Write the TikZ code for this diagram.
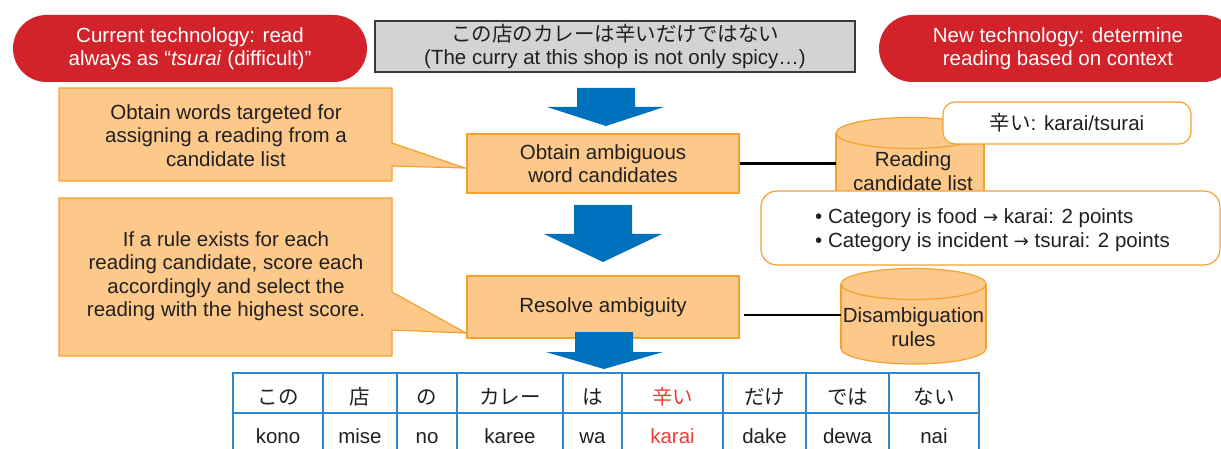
\documentclass[tikz,border=0pt]{standalone}
\usepackage{fontspec}
\setmainfont{Liberation Sans}
\newfontfamily\jpfont{Noto Sans CJK JP}
\newfontfamily\arrowfont{DejaVu Sans}
\definecolor{pillred}{HTML}{D2232A}
\definecolor{orfill}{HTML}{FCC98A}
\definecolor{ordraw}{HTML}{F7A12D}
\definecolor{grayfill}{HTML}{D1D3D4}
\definecolor{graydraw}{HTML}{3A3A3C}
\definecolor{arrowblue}{HTML}{0071BC}
\definecolor{tabblue}{HTML}{2F87CD}
\definecolor{txt}{HTML}{231F20}
\definecolor{redtxt}{HTML}{EF3E36}
\newcommand\fsz{\fontsize{20.5}{23.5}\selectfont}
\newcommand\rarr{{\arrowfont\fontsize{18}{18}\selectfont →}}
\tikzset{
  basetext/.style={font=\fsz, text=txt, align=center, inner sep=0pt},
  pill/.style={basetext, fill=pillred, text=white, rounded corners=33.5pt, minimum height=67pt},
  graybox/.style={basetext, fill=grayfill, draw=graydraw, line width=1.3pt},
  stepbox/.style={basetext, fill=orfill, draw=ordraw, line width=1.2pt},
  calloutshape/.style={fill=orfill, draw=ordraw, line width=1.2pt, line join=miter},
  notebox/.style={basetext, fill=white, draw=ordraw, line width=1.2pt},
  cylpart/.style={fill=orfill, draw=ordraw, line width=1.2pt},
  cylside/.style={draw=ordraw, line width=1.2pt},
  blockarrow/.style={fill=arrowblue},
  link/.style={draw=black, line width=2.2pt},
  tabline/.style={draw=tabblue, line width=1.4pt},
  cell/.style={font=\fsz, text=txt, anchor=base, inner sep=0pt},
  hitbox/.style={inner sep=0pt, draw=none},
}
\begin{document}
\begin{tikzpicture}[x=1pt,y=-1pt]
\useasboundingbox (0,0) rectangle (1221,449);

% top pills and source sentence
\node[pill, minimum width=354pt] (cur) at (190,48.5) {Current technology: read\\always as “\textit{tsurai} (difficult)”};
\node[pill, minimum width=358pt] (new) at (1058,48.5) {New technology: determine\\reading based on context};
\node[graybox, minimum width=480pt, minimum height=51pt] (src) at (615,46.5)
  {{\jpfont この店のカレーは辛いだけではない}\\(The curry at this shop is not only spicy…)};

% callouts
\draw[calloutshape] (59,88) -- (392,88) -- (392,143) -- (465,168) -- (392,166) -- (392,181) -- (59,181) -- cycle;
\node[basetext] (note1) at (226,135.5) {Obtain words targeted for\\assigning a reading from a\\candidate list};
\draw[calloutshape] (59,198) -- (392,198) -- (392,292) -- (466,333) -- (392,330) -- (392,356) -- (59,356) -- cycle;
\node[basetext] (note2) at (226,276) {If a rule exists for each\\reading candidate, score each\\accordingly and select the\\reading with the highest score.};

% process boxes
\node[stepbox, minimum width=272pt, minimum height=59pt] (b1) at (603,163.5) {Obtain ambiguous\\word candidates};
\node[stepbox, minimum width=272pt, minimum height=62pt] (b2) at (603,307) {Resolve ambiguity};

% block arrows
\fill[blockarrow] (577,88) -- (635,88) -- (635,107) -- (664,107) -- (606,126) -- (547,107) -- (577,107) -- cycle;
\fill[blockarrow] (574,205) -- (632,205) -- (632,234) -- (662,234) -- (603,262) -- (544,234) -- (574,234) -- cycle;
\fill[blockarrow] (575,332) -- (633,332) -- (633,352) -- (663,352) -- (604,369) -- (546,352) -- (575,352) -- cycle;

% cylinder 1: reading candidate list
\fill[orfill] (836,133) rectangle (984,215);
\draw[cylside] (836,133) -- (836,215) (984,133) -- (984,215);
\filldraw[cylpart] (910,133) ellipse [x radius=74pt, y radius=15.5pt];
\node[hitbox, minimum width=148pt, minimum height=60pt] (cyl1) at (910,170) {};
\node[basetext] (cyl1txt) at ([xshift=3pt,yshift=-1pt]cyl1.center) {Reading\\candidate list};
\draw[link] (b1.east) -- (cyl1.west |- b1.east);

% cylinder 2: disambiguation rules
\filldraw[cylpart] (913.5,348.5) ellipse [x radius=72.5pt, y radius=15.5pt];
\fill[orfill] (841,284) rectangle (986,348.5);
\draw[cylside] (841,284) -- (841,348.5) (986,284) -- (986,348.5);
\filldraw[cylpart] (913.5,284) ellipse [x radius=72.5pt, y radius=15.5pt];
\node[hitbox, minimum width=145pt, minimum height=80pt] (cyl2) at (913.5,316) {};
\node[basetext] (cyl2txt) at (913.5,327) {Disambiguation\\rules};
\coordinate (linky) at (0,315);
\draw[link] ([xshift=4pt]b2.east |- linky) -- (cyl2.west |- linky);

% notes
\node[notebox, rounded corners=16pt, minimum width=459pt, minimum height=74pt] (rules) at (990.5,228) {};
\node[basetext, align=left, anchor=west] (rulestxt) at (815,230)
  {• Category is food \rarr\ karai: 2 points\\• Category is incident \rarr\ tsurai: 2 points};
\node[notebox, rounded corners=12pt, minimum width=248pt, minimum height=42pt] (reading) at (1067,123)
  {{\jpfont 辛い}: karai/tsurai};

% result table
\draw[tabline] (233,373) rectangle (979,456);
\draw[tabline] (233,413) -- (979,413);
\foreach \x in {323,397,457,563,622,723,806,889} {
  \draw[tabline] (\x,373) -- (\x,456);
}
\foreach \x/\j/\r/\c in {278/この/kono/txt, 360/店/mise/txt, 427/の/no/txt, 510/カレー/karee/txt,
    592.5/は/wa/txt, 672.5/辛い/karai/redtxt, 764.5/だけ/dake/txt, 847.5/では/dewa/txt, 934/ない/nai/txt} {
  \node[cell, text=\c] at (\x,404) {\jpfont \j};
  \node[cell, text=\c] at (\x,443) {\r};
}
\end{tikzpicture}
\end{document}
